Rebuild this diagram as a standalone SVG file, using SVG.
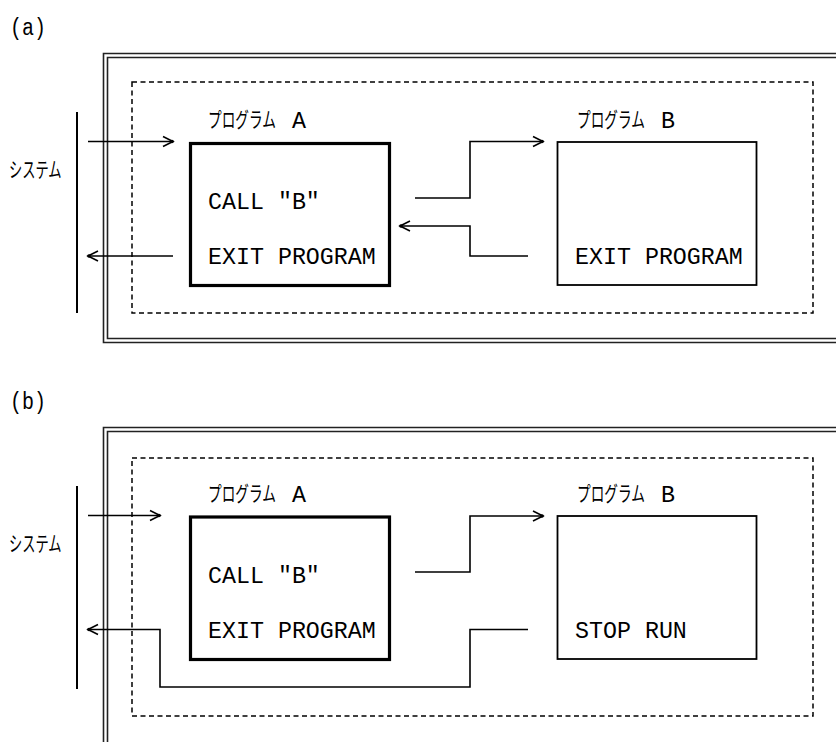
<svg xmlns="http://www.w3.org/2000/svg" width="836" height="742" viewBox="0 0 836 742">
<style>
.border{fill:none;stroke:#222;stroke-width:1.6}
.dash{fill:none;stroke:#000;stroke-width:1.5;stroke-dasharray:5 3.5}
.sys{stroke:#000;stroke-width:2}
.conn{fill:none;stroke:#000;stroke-width:1.6}
.boxA{fill:#fff;stroke:#000;stroke-width:3.2}
.boxB{fill:#fff;stroke:#000;stroke-width:1.8}
.t{font-family:"Liberation Mono","DejaVu Sans Mono",monospace;font-size:23.3px;fill:#000}
.k{font-family:"Noto Sans CJK JP","Noto Sans",sans-serif;font-size:21px;fill:#000}
</style>
<defs>
<marker id="ah" markerUnits="userSpaceOnUse" markerWidth="14" markerHeight="14" viewBox="-12 -7 14 14" refX="0" refY="0" orient="auto">
<path d="M-10,-5 L0,0 L-10,5" fill="none" stroke="#000" stroke-width="1.6"/>
<circle cx="-1" cy="0" r="1.8" fill="#000"/>
</marker>
</defs>
<rect width="836" height="742" fill="#fff"/>

<!-- Panel (a) -->
<g id="panel-a">
<text class="t" x="10" y="35" textLength="36" lengthAdjust="spacingAndGlyphs">(a)</text>
<g id="a-border">
<path class="border" d="M836,53.5 H103.5 V342.5 H836"/>
<path class="border" d="M836,57.5 H107.5 V338.5 H836"/>
</g>
<rect id="a-dashed" class="dash" x="132" y="82" width="681" height="231"/>
<g id="a-system">
<line class="sys" x1="77" y1="112" x2="77" y2="313"/>
<text class="k" transform="translate(9,177) scale(0.63,1)">システム</text>
</g>
<g id="a-progA">
<text class="k" transform="translate(208,127) scale(0.65,1)">プログラム</text>
<text class="t" x="292" y="128">A</text>
<rect class="boxA" x="190.5" y="143.5" width="199" height="142"/>
<text class="t" x="208" y="209">CALL "B"</text>
<text class="t" x="208" y="264">EXIT PROGRAM</text>
</g>
<g id="a-progB">
<text class="k" transform="translate(577,127) scale(0.65,1)">プログラム</text>
<text class="t" x="661" y="128">B</text>
<rect class="boxB" x="557.5" y="142" width="199" height="143"/>
<text class="t" x="575" y="264">EXIT PROGRAM</text>
</g>
<g id="a-connectors">
<path class="conn" d="M88,141.5 H173" marker-end="url(#ah)"/>
<path class="conn" d="M173,256 H88" marker-end="url(#ah)"/>
<path class="conn" d="M415,198 H470 V141.5 H543" marker-end="url(#ah)"/>
<path class="conn" d="M528,256 H470 V226 H400" marker-end="url(#ah)"/>
</g>
</g>

<!-- Panel (b) -->
<g id="panel-b">
<text class="t" x="10" y="409" textLength="36" lengthAdjust="spacingAndGlyphs">(b)</text>
<g id="b-border">
<path class="border" d="M836,427.5 H103.5 V742"/>
<path class="border" d="M836,431.5 H107.5 V742"/>
</g>
<rect id="b-dashed" class="dash" x="132" y="458" width="681" height="258"/>
<g id="b-system">
<line class="sys" x1="77" y1="486" x2="77" y2="689"/>
<text class="k" transform="translate(9,551) scale(0.63,1)">システム</text>
</g>
<g id="b-progA">
<text class="k" transform="translate(208,501) scale(0.65,1)">プログラム</text>
<text class="t" x="292" y="502">A</text>
<rect class="boxA" x="190.5" y="517" width="199" height="142.5"/>
<text class="t" x="208" y="583">CALL "B"</text>
<text class="t" x="208" y="638">EXIT PROGRAM</text>
</g>
<g id="b-progB">
<text class="k" transform="translate(577,501) scale(0.65,1)">プログラム</text>
<text class="t" x="661" y="502">B</text>
<rect class="boxB" x="557.5" y="516" width="199" height="143"/>
<text class="t" x="575" y="638">STOP RUN</text>
</g>
<g id="b-connectors">
<path class="conn" d="M88,515.5 H160" marker-end="url(#ah)"/>
<path class="conn" d="M415,572 H470 V516 H543" marker-end="url(#ah)"/>
<path class="conn" d="M528,629.5 H470 V687 H160 V629.5 H88" marker-end="url(#ah)"/>
</g>
</g>
</svg>
